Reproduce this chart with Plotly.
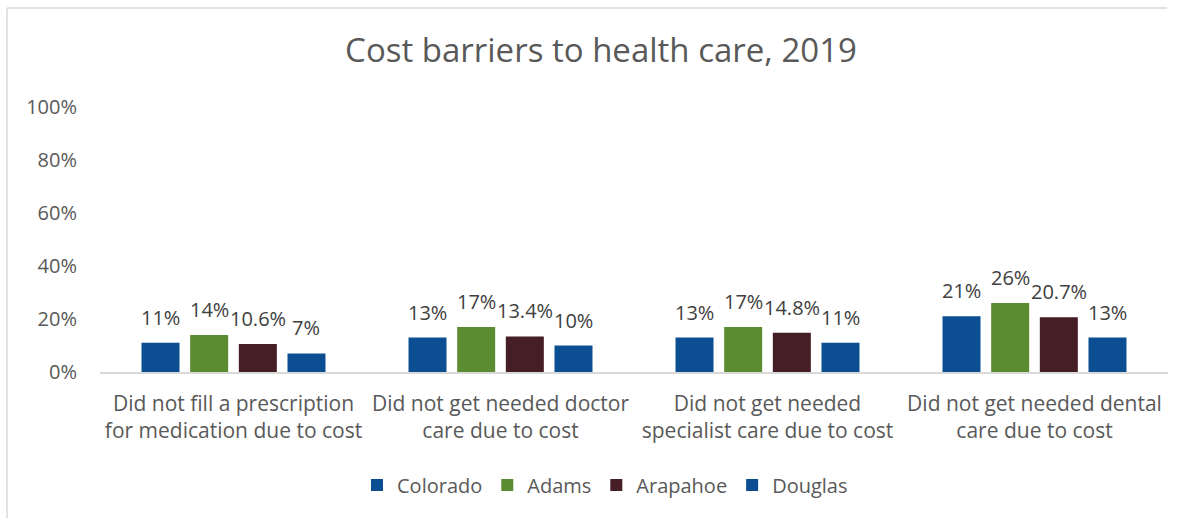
import plotly.graph_objects as go

categories = [
    "Did not fill a prescription<br>for medication due to cost",
    "Did not get needed doctor<br>care due to cost",
    "Did not get needed<br>specialist care due to cost",
    "Did not get needed dental<br>care due to cost",
]
colorado = [0.11, 0.13, 0.13, 0.21]
adams = [0.14, 0.17, 0.17, 0.26]
arapahoe = [0.106, 0.134, 0.148, 0.207]
douglas = [0.07, 0.10, 0.11, 0.13]

colorado_labels = ["11%", "13%", "13%", "21%"]
adams_labels = ["14%", "17%", "17%", "26%"]
arapahoe_labels = ["10.6%", "13.4%", "14.8%", "20.7%"]
douglas_labels = ["7%", "10%", "11%", "13%"]

series = [
    ("Colorado", colorado, colorado_labels, "#0B4F92"),
    ("Adams", adams, adams_labels, "#5B8C32"),
    ("Arapahoe", arapahoe, arapahoe_labels, "#461E25"),
    ("Douglas", douglas, douglas_labels, "#0B4F92"),
]

FONT = "Open Sans"
GREY = "#595959"

W, H = 1187, 518
L, R, T, B = 100, 19, 107, 146
pw, ph = W - L - R, H - T - B

# bar geometry within each category (pixels)
BARGAP, GROUPGAP = 0.271, 0.219
cat_px = pw / len(categories)
slot_px = cat_px * (1 - BARGAP) / len(series)

def px(x):
    return (x - L) / pw

def py(y):
    return (H - B - y) / ph

fig = go.Figure()
annotations = []
for i, (name, vals, labels, color) in enumerate(series):
    fig.add_trace(go.Bar(
        name=name, x=categories, y=vals,
        marker=dict(color=color, line=dict(width=0)),
    ))
    shift = (i - (len(series) - 1) / 2) * slot_px
    for cat, v, lab in zip(categories, vals, labels):
        annotations.append(dict(
            x=cat, y=v, xref="x", yref="y", text=lab, showarrow=False,
            xanchor="center", yanchor="bottom", xshift=shift, yshift=10,
            font=dict(family=FONT, size=20, color="#404040"),
        ))

fig.update_layout(
    width=W, height=H,
    margin=dict(l=L, r=R, t=T, b=B),
    paper_bgcolor="white", plot_bgcolor="white",
    barmode="group", bargap=BARGAP, bargroupgap=GROUPGAP,
    title=dict(text="Cost barriers to health care, 2019", xref="container",
               x=601 / W, xanchor="center", y=1 - 50 / H, yanchor="middle",
               font=dict(family=FONT, size=33, color=GREY)),
    font=dict(family=FONT, color=GREY),
    legend=dict(orientation="h", x=px(605), xanchor="center", y=py(485), yanchor="middle",
                font=dict(family=FONT, size=20, color=GREY), traceorder="normal",
                itemwidth=30),
    showlegend=True,
    xaxis=dict(showgrid=False, showline=True, linecolor="#d9d9d9", linewidth=1.5,
               tickfont=dict(family=FONT, size=21, color=GREY), ticks="",
               ticklabelstandoff=12, fixedrange=True),
    yaxis=dict(range=[0, 1], dtick=0.2, tickformat=".0%", showgrid=False,
               zeroline=False, showline=False, ticks="",
               tickfont=dict(family=FONT, size=20, color=GREY),
               ticklabelstandoff=22, fixedrange=True),
    annotations=annotations,
    shapes=[
        dict(type="line", xref="paper", yref="paper", x0=px(7), x1=px(7), y0=py(8), y1=py(530),
             line=dict(color="#d9d9d9", width=1.5)),
        dict(type="line", xref="paper", yref="paper", x0=px(7), x1=px(1167), y0=py(8), y1=py(8),
             line=dict(color="#d9d9d9", width=1.5)),
    ],
)

fig.write_html("out.html")
